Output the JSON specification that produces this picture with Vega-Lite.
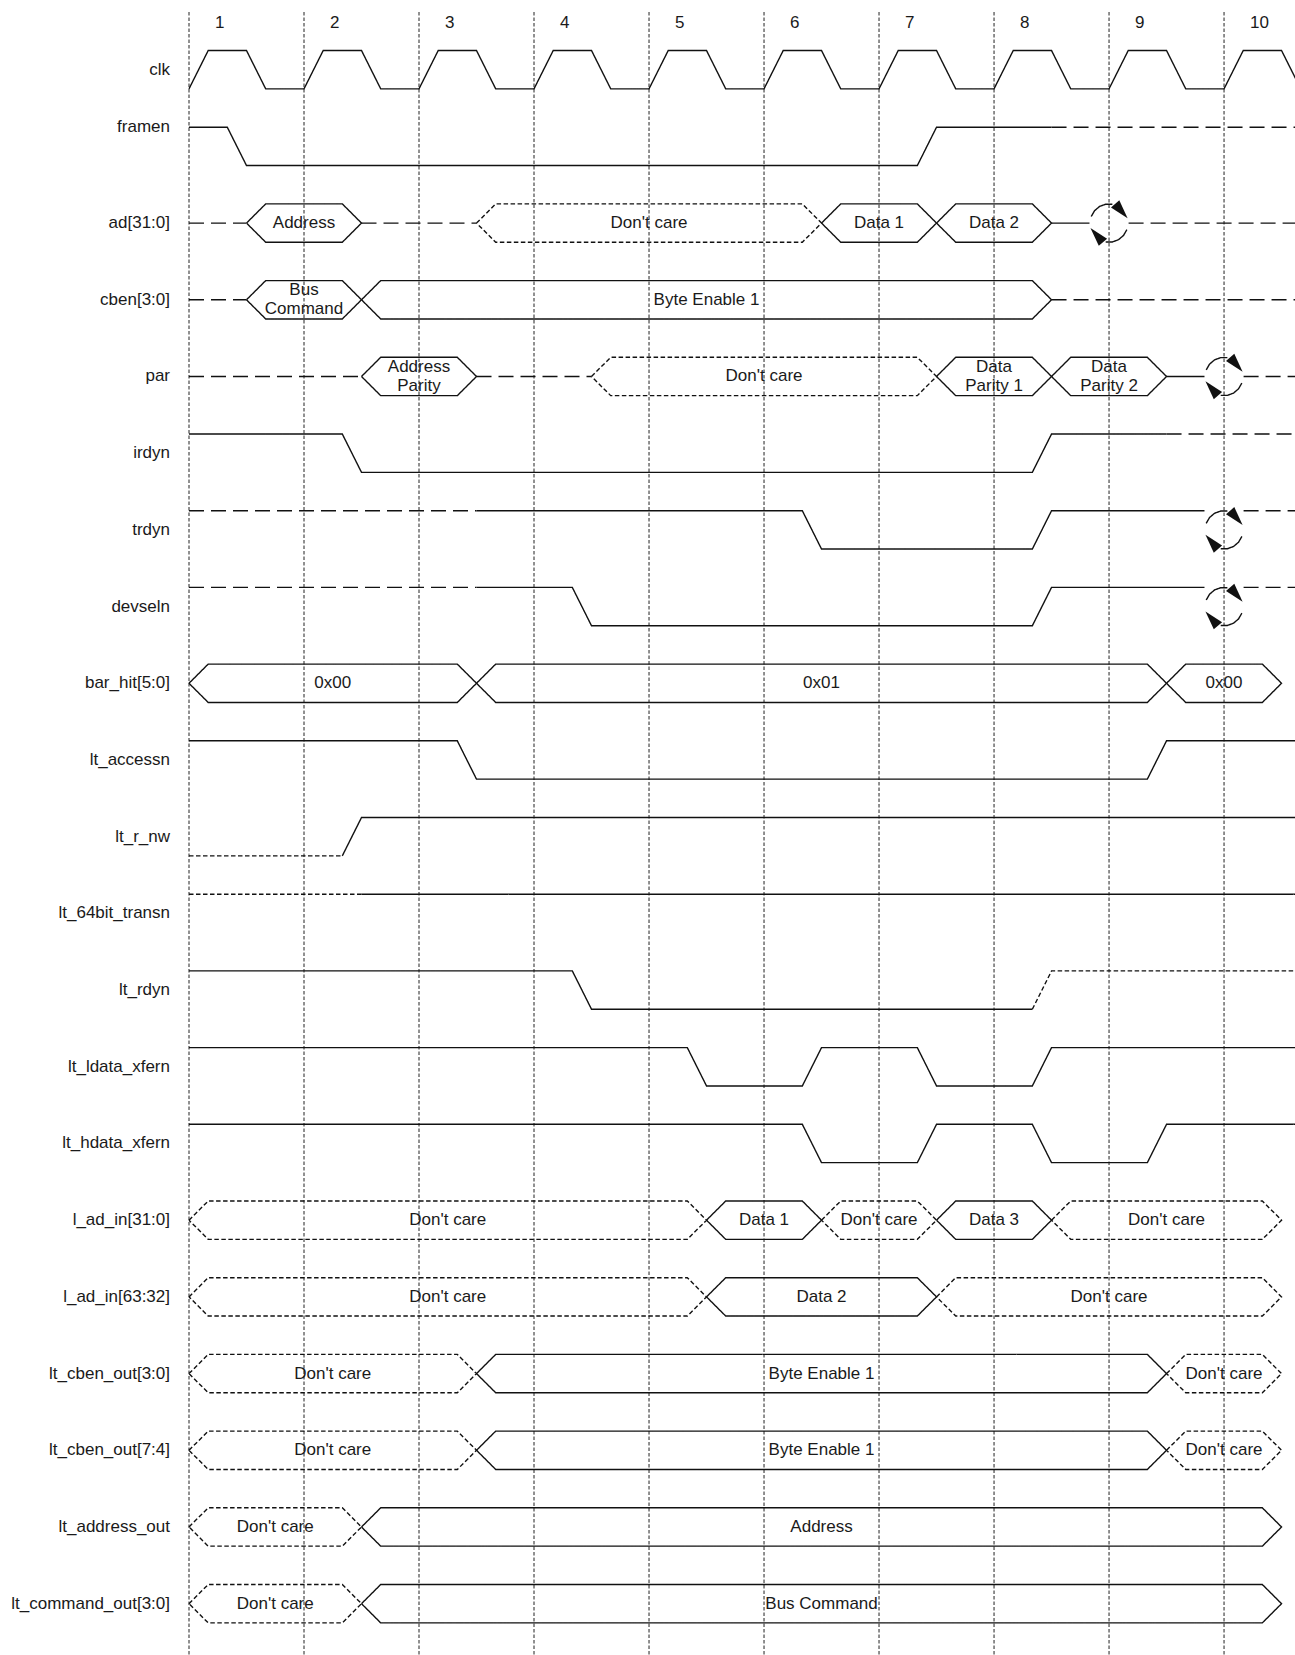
{
"$schema": "https://vega.github.io/schema/vega-lite/v6.json",
"width": 1106, "height": 1643,
"autosize": {"type": "none"},
"padding": {"left": 189, "top": 12, "right": 0, "bottom": 0},
"background": "white",
"config": {"view": {"stroke": null}},
"datasets": {
"num": [{"c":"1","t":0},{"c":"2","t":1},{"c":"3","t":2},{"c":"4","t":3},{"c":"5","t":4},{"c":"6","t":5},{"c":"7","t":6},{"c":"8","t":7},{"c":"9","t":8},{"c":"10","t":9}],
"nm": [{"name":"clk","ly":0},{"name":"framen","ly":0.75},{"name":"ad[31:0]","ly":2},{"name":"cben[3:0]","ly":3},{"name":"par","ly":4},{"name":"irdyn","ly":5},{"name":"trdyn","ly":6},{"name":"devseln","ly":7},{"name":"bar_hit[5:0]","ly":8},{"name":"lt_accessn","ly":9},{"name":"lt_r_nw","ly":10},{"name":"lt_64bit_transn","ly":11},{"name":"lt_rdyn","ly":12},{"name":"lt_ldata_xfern","ly":13},{"name":"lt_hdata_xfern","ly":14},{"name":"l_ad_in[31:0]","ly":15},{"name":"l_ad_in[63:32]","ly":16},{"name":"lt_cben_out[3:0]","ly":17},{"name":"lt_cben_out[7:4]","ly":18},{"name":"lt_address_out","ly":19},{"name":"lt_command_out[3:0]","ly":20}],
"lab": [
{"t":1,"y":2,"txt":"Address"},{"t":4,"y":2,"txt":"Don't care"},{"t":6,"y":2,"txt":"Data 1"},{"t":7,"y":2,"txt":"Data 2"},
{"t":4.5,"y":3,"txt":"Byte Enable 1"},
{"t":5,"y":4,"txt":"Don't care"},
{"t":1.25,"y":8,"txt":"0x00"},{"t":5.5,"y":8,"txt":"0x01"},{"t":9,"y":8,"txt":"0x00"},
{"t":2.25,"y":15,"txt":"Don't care"},{"t":5,"y":15,"txt":"Data 1"},{"t":6,"y":15,"txt":"Don't care"},{"t":7,"y":15,"txt":"Data 3"},{"t":8.5,"y":15,"txt":"Don't care"},
{"t":2.25,"y":16,"txt":"Don't care"},{"t":5.5,"y":16,"txt":"Data 2"},{"t":8,"y":16,"txt":"Don't care"},
{"t":1.25,"y":17,"txt":"Don't care"},{"t":5.5,"y":17,"txt":"Byte Enable 1"},{"t":9,"y":17,"txt":"Don't care"},
{"t":1.25,"y":18,"txt":"Don't care"},{"t":5.5,"y":18,"txt":"Byte Enable 1"},{"t":9,"y":18,"txt":"Don't care"},
{"t":0.75,"y":19,"txt":"Don't care"},{"t":5.5,"y":19,"txt":"Address"},
{"t":0.75,"y":20,"txt":"Don't care"},{"t":5.5,"y":20,"txt":"Bus Command"}
],
"lab2": [
{"t":1,"y":3,"txt":"Bus\nCommand"},
{"t":2,"y":4,"txt":"Address\nParity"},{"t":7,"y":4,"txt":"Data\nParity 1"},{"t":8,"y":4,"txt":"Data\nParity 2"}
],
"arr": [
{"t":8.089,"y":1.812,"ang":139},{"t":7.911,"y":2.188,"ang":319},
{"t":9.089,"y":3.812,"ang":139},{"t":8.911,"y":4.188,"ang":319},
{"t":9.089,"y":5.812,"ang":139},{"t":8.911,"y":6.188,"ang":319},
{"t":9.089,"y":6.812,"ang":139},{"t":8.911,"y":7.188,"ang":319}
],
"w": [
{"g":"clk","s":"solid","t":0,"y":0.25},
{"g":"clk","s":"solid","t":0.167,"y":-0.25},{"g":"clk","s":"solid","t":0.5,"y":-0.25},{"g":"clk","s":"solid","t":0.667,"y":0.25},{"g":"clk","s":"solid","t":1,"y":0.25},
{"g":"clk","s":"solid","t":1.167,"y":-0.25},{"g":"clk","s":"solid","t":1.5,"y":-0.25},{"g":"clk","s":"solid","t":1.667,"y":0.25},{"g":"clk","s":"solid","t":2,"y":0.25},
{"g":"clk","s":"solid","t":2.167,"y":-0.25},{"g":"clk","s":"solid","t":2.5,"y":-0.25},{"g":"clk","s":"solid","t":2.667,"y":0.25},{"g":"clk","s":"solid","t":3,"y":0.25},
{"g":"clk","s":"solid","t":3.167,"y":-0.25},{"g":"clk","s":"solid","t":3.5,"y":-0.25},{"g":"clk","s":"solid","t":3.667,"y":0.25},{"g":"clk","s":"solid","t":4,"y":0.25},
{"g":"clk","s":"solid","t":4.167,"y":-0.25},{"g":"clk","s":"solid","t":4.5,"y":-0.25},{"g":"clk","s":"solid","t":4.667,"y":0.25},{"g":"clk","s":"solid","t":5,"y":0.25},
{"g":"clk","s":"solid","t":5.167,"y":-0.25},{"g":"clk","s":"solid","t":5.5,"y":-0.25},{"g":"clk","s":"solid","t":5.667,"y":0.25},{"g":"clk","s":"solid","t":6,"y":0.25},
{"g":"clk","s":"solid","t":6.167,"y":-0.25},{"g":"clk","s":"solid","t":6.5,"y":-0.25},{"g":"clk","s":"solid","t":6.667,"y":0.25},{"g":"clk","s":"solid","t":7,"y":0.25},
{"g":"clk","s":"solid","t":7.167,"y":-0.25},{"g":"clk","s":"solid","t":7.5,"y":-0.25},{"g":"clk","s":"solid","t":7.667,"y":0.25},{"g":"clk","s":"solid","t":8,"y":0.25},
{"g":"clk","s":"solid","t":8.167,"y":-0.25},{"g":"clk","s":"solid","t":8.5,"y":-0.25},{"g":"clk","s":"solid","t":8.667,"y":0.25},{"g":"clk","s":"solid","t":9,"y":0.25},
{"g":"clk","s":"solid","t":9.167,"y":-0.25},{"g":"clk","s":"solid","t":9.5,"y":-0.25},{"g":"clk","s":"solid","t":9.667,"y":0.25},

{"g":"fr1","s":"solid","t":0,"y":0.75},{"g":"fr1","s":"solid","t":0.333,"y":0.75},{"g":"fr1","s":"solid","t":0.5,"y":1.25},{"g":"fr1","s":"solid","t":6.333,"y":1.25},{"g":"fr1","s":"solid","t":6.5,"y":0.75},{"g":"fr1","s":"solid","t":7.5,"y":0.75},
{"g":"fr2","s":"dash","t":7.5,"y":0.75},{"g":"fr2","s":"dash","t":9.7,"y":0.75},

{"g":"ad1","s":"dash","t":0,"y":2},{"g":"ad1","s":"dash","t":0.5,"y":2},
{"g":"adH1","s":"solid","t":0.5,"y":2},{"g":"adH1","s":"solid","t":0.667,"y":1.75},{"g":"adH1","s":"solid","t":1.333,"y":1.75},{"g":"adH1","s":"solid","t":1.5,"y":2},{"g":"adH1","s":"solid","t":1.333,"y":2.25},{"g":"adH1","s":"solid","t":0.667,"y":2.25},{"g":"adH1","s":"solid","t":0.5,"y":2},
{"g":"ad2","s":"dash","t":1.5,"y":2},{"g":"ad2","s":"dash","t":2.5,"y":2},
{"g":"adH2","s":"dot","t":2.5,"y":2},{"g":"adH2","s":"dot","t":2.667,"y":1.75},{"g":"adH2","s":"dot","t":5.333,"y":1.75},{"g":"adH2","s":"dot","t":5.5,"y":2},{"g":"adH2","s":"dot","t":5.333,"y":2.25},{"g":"adH2","s":"dot","t":2.667,"y":2.25},{"g":"adH2","s":"dot","t":2.5,"y":2},
{"g":"adH3","s":"solid","t":5.5,"y":2},{"g":"adH3","s":"solid","t":5.667,"y":1.75},{"g":"adH3","s":"solid","t":6.333,"y":1.75},{"g":"adH3","s":"solid","t":6.5,"y":2},{"g":"adH3","s":"solid","t":6.333,"y":2.25},{"g":"adH3","s":"solid","t":5.667,"y":2.25},{"g":"adH3","s":"solid","t":5.5,"y":2},
{"g":"adH4","s":"solid","t":6.5,"y":2},{"g":"adH4","s":"solid","t":6.667,"y":1.75},{"g":"adH4","s":"solid","t":7.333,"y":1.75},{"g":"adH4","s":"solid","t":7.5,"y":2},{"g":"adH4","s":"solid","t":7.333,"y":2.25},{"g":"adH4","s":"solid","t":6.667,"y":2.25},{"g":"adH4","s":"solid","t":6.5,"y":2},
{"g":"ad3","s":"solid","t":7.5,"y":2},{"g":"ad3","s":"solid","t":7.83,"y":2},
{"g":"adT","s":"solid","t":7.845,"y":1.9145},{"g":"adT","s":"solid","t":7.874,"y":1.839},{"g":"adT","s":"solid","t":7.9175,"y":1.7835},{"g":"adT","s":"solid","t":7.971,"y":1.754},{"g":"adT","s":"solid","t":8.029,"y":1.754},
{"g":"adB","s":"solid","t":8.155,"y":2.0855},{"g":"adB","s":"solid","t":8.126,"y":2.161},{"g":"adB","s":"solid","t":8.0825,"y":2.2165},{"g":"adB","s":"solid","t":8.029,"y":2.246},{"g":"adB","s":"solid","t":7.971,"y":2.246},
{"g":"ad4","s":"dash","t":8.17,"y":2},{"g":"ad4","s":"dash","t":9.7,"y":2},

{"g":"cb1","s":"dash","t":0,"y":3},{"g":"cb1","s":"dash","t":0.5,"y":3},
{"g":"cbH1","s":"solid","t":0.5,"y":3},{"g":"cbH1","s":"solid","t":0.667,"y":2.75},{"g":"cbH1","s":"solid","t":1.333,"y":2.75},{"g":"cbH1","s":"solid","t":1.5,"y":3},{"g":"cbH1","s":"solid","t":1.333,"y":3.25},{"g":"cbH1","s":"solid","t":0.667,"y":3.25},{"g":"cbH1","s":"solid","t":0.5,"y":3},
{"g":"cbH2","s":"solid","t":1.5,"y":3},{"g":"cbH2","s":"solid","t":1.667,"y":2.75},{"g":"cbH2","s":"solid","t":7.333,"y":2.75},{"g":"cbH2","s":"solid","t":7.5,"y":3},{"g":"cbH2","s":"solid","t":7.333,"y":3.25},{"g":"cbH2","s":"solid","t":1.667,"y":3.25},{"g":"cbH2","s":"solid","t":1.5,"y":3},
{"g":"cb2","s":"dash","t":7.5,"y":3},{"g":"cb2","s":"dash","t":9.7,"y":3},

{"g":"pa1","s":"dash","t":0,"y":4},{"g":"pa1","s":"dash","t":1.5,"y":4},
{"g":"paH1","s":"solid","t":1.5,"y":4},{"g":"paH1","s":"solid","t":1.667,"y":3.75},{"g":"paH1","s":"solid","t":2.333,"y":3.75},{"g":"paH1","s":"solid","t":2.5,"y":4},{"g":"paH1","s":"solid","t":2.333,"y":4.25},{"g":"paH1","s":"solid","t":1.667,"y":4.25},{"g":"paH1","s":"solid","t":1.5,"y":4},
{"g":"pa2","s":"dash","t":2.5,"y":4},{"g":"pa2","s":"dash","t":3.5,"y":4},
{"g":"paH2","s":"dot","t":3.5,"y":4},{"g":"paH2","s":"dot","t":3.667,"y":3.75},{"g":"paH2","s":"dot","t":6.333,"y":3.75},{"g":"paH2","s":"dot","t":6.5,"y":4},{"g":"paH2","s":"dot","t":6.333,"y":4.25},{"g":"paH2","s":"dot","t":3.667,"y":4.25},{"g":"paH2","s":"dot","t":3.5,"y":4},
{"g":"paH3","s":"solid","t":6.5,"y":4},{"g":"paH3","s":"solid","t":6.667,"y":3.75},{"g":"paH3","s":"solid","t":7.333,"y":3.75},{"g":"paH3","s":"solid","t":7.5,"y":4},{"g":"paH3","s":"solid","t":7.333,"y":4.25},{"g":"paH3","s":"solid","t":6.667,"y":4.25},{"g":"paH3","s":"solid","t":6.5,"y":4},
{"g":"paH4","s":"solid","t":7.5,"y":4},{"g":"paH4","s":"solid","t":7.667,"y":3.75},{"g":"paH4","s":"solid","t":8.333,"y":3.75},{"g":"paH4","s":"solid","t":8.5,"y":4},{"g":"paH4","s":"solid","t":8.333,"y":4.25},{"g":"paH4","s":"solid","t":7.667,"y":4.25},{"g":"paH4","s":"solid","t":7.5,"y":4},
{"g":"pa3","s":"solid","t":8.5,"y":4},{"g":"pa3","s":"solid","t":8.83,"y":4},
{"g":"paT","s":"solid","t":8.845,"y":3.9145},{"g":"paT","s":"solid","t":8.874,"y":3.839},{"g":"paT","s":"solid","t":8.9175,"y":3.7835},{"g":"paT","s":"solid","t":8.971,"y":3.754},{"g":"paT","s":"solid","t":9.029,"y":3.754},
{"g":"paB","s":"solid","t":9.155,"y":4.0855},{"g":"paB","s":"solid","t":9.126,"y":4.161},{"g":"paB","s":"solid","t":9.0825,"y":4.2165},{"g":"paB","s":"solid","t":9.029,"y":4.246},{"g":"paB","s":"solid","t":8.971,"y":4.246},
{"g":"pa4","s":"dash","t":9.17,"y":4},{"g":"pa4","s":"dash","t":9.7,"y":4},

{"g":"ir1","s":"solid","t":0,"y":4.75},{"g":"ir1","s":"solid","t":1.333,"y":4.75},{"g":"ir1","s":"solid","t":1.5,"y":5.25},{"g":"ir1","s":"solid","t":7.333,"y":5.25},{"g":"ir1","s":"solid","t":7.5,"y":4.75},{"g":"ir1","s":"solid","t":8.5,"y":4.75},
{"g":"ir2","s":"dash","t":8.5,"y":4.75},{"g":"ir2","s":"dash","t":9.7,"y":4.75},

{"g":"tr1","s":"dash","t":0,"y":5.75},{"g":"tr1","s":"dash","t":2.5,"y":5.75},
{"g":"tr2","s":"solid","t":2.5,"y":5.75},{"g":"tr2","s":"solid","t":5.333,"y":5.75},{"g":"tr2","s":"solid","t":5.5,"y":6.25},{"g":"tr2","s":"solid","t":7.333,"y":6.25},{"g":"tr2","s":"solid","t":7.5,"y":5.75},{"g":"tr2","s":"solid","t":8.83,"y":5.75},
{"g":"trT","s":"solid","t":8.845,"y":5.9145},{"g":"trT","s":"solid","t":8.874,"y":5.839},{"g":"trT","s":"solid","t":8.9175,"y":5.7835},{"g":"trT","s":"solid","t":8.971,"y":5.754},{"g":"trT","s":"solid","t":9.029,"y":5.754},
{"g":"trB","s":"solid","t":9.155,"y":6.0855},{"g":"trB","s":"solid","t":9.126,"y":6.161},{"g":"trB","s":"solid","t":9.0825,"y":6.2165},{"g":"trB","s":"solid","t":9.029,"y":6.246},{"g":"trB","s":"solid","t":8.971,"y":6.246},
{"g":"tr3","s":"dash","t":9.17,"y":5.75},{"g":"tr3","s":"dash","t":9.7,"y":5.75},

{"g":"dv1","s":"dash","t":0,"y":6.75},{"g":"dv1","s":"dash","t":2.5,"y":6.75},
{"g":"dv2","s":"solid","t":2.5,"y":6.75},{"g":"dv2","s":"solid","t":3.333,"y":6.75},{"g":"dv2","s":"solid","t":3.5,"y":7.25},{"g":"dv2","s":"solid","t":7.333,"y":7.25},{"g":"dv2","s":"solid","t":7.5,"y":6.75},{"g":"dv2","s":"solid","t":8.83,"y":6.75},
{"g":"dvT","s":"solid","t":8.845,"y":6.9145},{"g":"dvT","s":"solid","t":8.874,"y":6.839},{"g":"dvT","s":"solid","t":8.9175,"y":6.7835},{"g":"dvT","s":"solid","t":8.971,"y":6.754},{"g":"dvT","s":"solid","t":9.029,"y":6.754},
{"g":"dvB","s":"solid","t":9.155,"y":7.0855},{"g":"dvB","s":"solid","t":9.126,"y":7.161},{"g":"dvB","s":"solid","t":9.0825,"y":7.2165},{"g":"dvB","s":"solid","t":9.029,"y":7.246},{"g":"dvB","s":"solid","t":8.971,"y":7.246},
{"g":"dv3","s":"dash","t":9.17,"y":6.75},{"g":"dv3","s":"dash","t":9.7,"y":6.75},

{"g":"bhH1","s":"solid","t":0,"y":8},{"g":"bhH1","s":"solid","t":0.167,"y":7.75},{"g":"bhH1","s":"solid","t":2.333,"y":7.75},{"g":"bhH1","s":"solid","t":2.5,"y":8},{"g":"bhH1","s":"solid","t":2.333,"y":8.25},{"g":"bhH1","s":"solid","t":0.167,"y":8.25},{"g":"bhH1","s":"solid","t":0,"y":8},
{"g":"bhH2","s":"solid","t":2.5,"y":8},{"g":"bhH2","s":"solid","t":2.667,"y":7.75},{"g":"bhH2","s":"solid","t":8.333,"y":7.75},{"g":"bhH2","s":"solid","t":8.5,"y":8},{"g":"bhH2","s":"solid","t":8.333,"y":8.25},{"g":"bhH2","s":"solid","t":2.667,"y":8.25},{"g":"bhH2","s":"solid","t":2.5,"y":8},
{"g":"bhH3","s":"solid","t":8.5,"y":8},{"g":"bhH3","s":"solid","t":8.667,"y":7.75},{"g":"bhH3","s":"solid","t":9.333,"y":7.75},{"g":"bhH3","s":"solid","t":9.5,"y":8},{"g":"bhH3","s":"solid","t":9.333,"y":8.25},{"g":"bhH3","s":"solid","t":8.667,"y":8.25},{"g":"bhH3","s":"solid","t":8.5,"y":8},

{"g":"la","s":"solid","t":0,"y":8.75},{"g":"la","s":"solid","t":2.333,"y":8.75},{"g":"la","s":"solid","t":2.5,"y":9.25},{"g":"la","s":"solid","t":8.333,"y":9.25},{"g":"la","s":"solid","t":8.5,"y":8.75},{"g":"la","s":"solid","t":9.7,"y":8.75},

{"g":"rn1","s":"dot","t":0,"y":10.25},{"g":"rn1","s":"dot","t":1.333,"y":10.25},
{"g":"rn2","s":"solid","t":1.333,"y":10.25},{"g":"rn2","s":"solid","t":1.5,"y":9.75},{"g":"rn2","s":"solid","t":9.7,"y":9.75},

{"g":"b64a","s":"dot","t":0,"y":10.75},{"g":"b64a","s":"dot","t":1.5,"y":10.75},
{"g":"b64b","s":"solid","t":1.5,"y":10.75},{"g":"b64b","s":"solid","t":9.7,"y":10.75},

{"g":"rd1","s":"solid","t":0,"y":11.75},{"g":"rd1","s":"solid","t":3.333,"y":11.75},{"g":"rd1","s":"solid","t":3.5,"y":12.25},{"g":"rd1","s":"solid","t":7.333,"y":12.25},
{"g":"rd2","s":"dot","t":7.333,"y":12.25},{"g":"rd2","s":"dot","t":7.5,"y":11.75},{"g":"rd2","s":"dot","t":9.7,"y":11.75},

{"g":"ld","s":"solid","t":0,"y":12.75},{"g":"ld","s":"solid","t":4.333,"y":12.75},{"g":"ld","s":"solid","t":4.5,"y":13.25},{"g":"ld","s":"solid","t":5.333,"y":13.25},{"g":"ld","s":"solid","t":5.5,"y":12.75},{"g":"ld","s":"solid","t":6.333,"y":12.75},{"g":"ld","s":"solid","t":6.5,"y":13.25},{"g":"ld","s":"solid","t":7.333,"y":13.25},{"g":"ld","s":"solid","t":7.5,"y":12.75},{"g":"ld","s":"solid","t":9.7,"y":12.75},

{"g":"hd","s":"solid","t":0,"y":13.75},{"g":"hd","s":"solid","t":5.333,"y":13.75},{"g":"hd","s":"solid","t":5.5,"y":14.25},{"g":"hd","s":"solid","t":6.333,"y":14.25},{"g":"hd","s":"solid","t":6.5,"y":13.75},{"g":"hd","s":"solid","t":7.333,"y":13.75},{"g":"hd","s":"solid","t":7.5,"y":14.25},{"g":"hd","s":"solid","t":8.333,"y":14.25},{"g":"hd","s":"solid","t":8.5,"y":13.75},{"g":"hd","s":"solid","t":9.7,"y":13.75},

{"g":"a31H1","s":"dot","t":0,"y":15},{"g":"a31H1","s":"dot","t":0.167,"y":14.75},{"g":"a31H1","s":"dot","t":4.333,"y":14.75},{"g":"a31H1","s":"dot","t":4.5,"y":15},{"g":"a31H1","s":"dot","t":4.333,"y":15.25},{"g":"a31H1","s":"dot","t":0.167,"y":15.25},{"g":"a31H1","s":"dot","t":0,"y":15},
{"g":"a31H2","s":"solid","t":4.5,"y":15},{"g":"a31H2","s":"solid","t":4.667,"y":14.75},{"g":"a31H2","s":"solid","t":5.333,"y":14.75},{"g":"a31H2","s":"solid","t":5.5,"y":15},{"g":"a31H2","s":"solid","t":5.333,"y":15.25},{"g":"a31H2","s":"solid","t":4.667,"y":15.25},{"g":"a31H2","s":"solid","t":4.5,"y":15},
{"g":"a31H3","s":"dot","t":5.5,"y":15},{"g":"a31H3","s":"dot","t":5.667,"y":14.75},{"g":"a31H3","s":"dot","t":6.333,"y":14.75},{"g":"a31H3","s":"dot","t":6.5,"y":15},{"g":"a31H3","s":"dot","t":6.333,"y":15.25},{"g":"a31H3","s":"dot","t":5.667,"y":15.25},{"g":"a31H3","s":"dot","t":5.5,"y":15},
{"g":"a31H4","s":"solid","t":6.5,"y":15},{"g":"a31H4","s":"solid","t":6.667,"y":14.75},{"g":"a31H4","s":"solid","t":7.333,"y":14.75},{"g":"a31H4","s":"solid","t":7.5,"y":15},{"g":"a31H4","s":"solid","t":7.333,"y":15.25},{"g":"a31H4","s":"solid","t":6.667,"y":15.25},{"g":"a31H4","s":"solid","t":6.5,"y":15},
{"g":"a31H5","s":"dot","t":7.5,"y":15},{"g":"a31H5","s":"dot","t":7.667,"y":14.75},{"g":"a31H5","s":"dot","t":9.333,"y":14.75},{"g":"a31H5","s":"dot","t":9.5,"y":15},{"g":"a31H5","s":"dot","t":9.333,"y":15.25},{"g":"a31H5","s":"dot","t":7.667,"y":15.25},{"g":"a31H5","s":"dot","t":7.5,"y":15},

{"g":"a63H1","s":"dot","t":0,"y":16},{"g":"a63H1","s":"dot","t":0.167,"y":15.75},{"g":"a63H1","s":"dot","t":4.333,"y":15.75},{"g":"a63H1","s":"dot","t":4.5,"y":16},{"g":"a63H1","s":"dot","t":4.333,"y":16.25},{"g":"a63H1","s":"dot","t":0.167,"y":16.25},{"g":"a63H1","s":"dot","t":0,"y":16},
{"g":"a63H2","s":"solid","t":4.5,"y":16},{"g":"a63H2","s":"solid","t":4.667,"y":15.75},{"g":"a63H2","s":"solid","t":6.333,"y":15.75},{"g":"a63H2","s":"solid","t":6.5,"y":16},{"g":"a63H2","s":"solid","t":6.333,"y":16.25},{"g":"a63H2","s":"solid","t":4.667,"y":16.25},{"g":"a63H2","s":"solid","t":4.5,"y":16},
{"g":"a63H3","s":"dot","t":6.5,"y":16},{"g":"a63H3","s":"dot","t":6.667,"y":15.75},{"g":"a63H3","s":"dot","t":9.333,"y":15.75},{"g":"a63H3","s":"dot","t":9.5,"y":16},{"g":"a63H3","s":"dot","t":9.333,"y":16.25},{"g":"a63H3","s":"dot","t":6.667,"y":16.25},{"g":"a63H3","s":"dot","t":6.5,"y":16},

{"g":"c3H1","s":"dot","t":0,"y":17},{"g":"c3H1","s":"dot","t":0.167,"y":16.75},{"g":"c3H1","s":"dot","t":2.333,"y":16.75},{"g":"c3H1","s":"dot","t":2.5,"y":17},{"g":"c3H1","s":"dot","t":2.333,"y":17.25},{"g":"c3H1","s":"dot","t":0.167,"y":17.25},{"g":"c3H1","s":"dot","t":0,"y":17},
{"g":"c3H2","s":"solid","t":2.5,"y":17},{"g":"c3H2","s":"solid","t":2.667,"y":16.75},{"g":"c3H2","s":"solid","t":8.333,"y":16.75},{"g":"c3H2","s":"solid","t":8.5,"y":17},{"g":"c3H2","s":"solid","t":8.333,"y":17.25},{"g":"c3H2","s":"solid","t":2.667,"y":17.25},{"g":"c3H2","s":"solid","t":2.5,"y":17},
{"g":"c3H3","s":"dot","t":8.5,"y":17},{"g":"c3H3","s":"dot","t":8.667,"y":16.75},{"g":"c3H3","s":"dot","t":9.333,"y":16.75},{"g":"c3H3","s":"dot","t":9.5,"y":17},{"g":"c3H3","s":"dot","t":9.333,"y":17.25},{"g":"c3H3","s":"dot","t":8.667,"y":17.25},{"g":"c3H3","s":"dot","t":8.5,"y":17},

{"g":"c7H1","s":"dot","t":0,"y":18},{"g":"c7H1","s":"dot","t":0.167,"y":17.75},{"g":"c7H1","s":"dot","t":2.333,"y":17.75},{"g":"c7H1","s":"dot","t":2.5,"y":18},{"g":"c7H1","s":"dot","t":2.333,"y":18.25},{"g":"c7H1","s":"dot","t":0.167,"y":18.25},{"g":"c7H1","s":"dot","t":0,"y":18},
{"g":"c7H2","s":"solid","t":2.5,"y":18},{"g":"c7H2","s":"solid","t":2.667,"y":17.75},{"g":"c7H2","s":"solid","t":8.333,"y":17.75},{"g":"c7H2","s":"solid","t":8.5,"y":18},{"g":"c7H2","s":"solid","t":8.333,"y":18.25},{"g":"c7H2","s":"solid","t":2.667,"y":18.25},{"g":"c7H2","s":"solid","t":2.5,"y":18},
{"g":"c7H3","s":"dot","t":8.5,"y":18},{"g":"c7H3","s":"dot","t":8.667,"y":17.75},{"g":"c7H3","s":"dot","t":9.333,"y":17.75},{"g":"c7H3","s":"dot","t":9.5,"y":18},{"g":"c7H3","s":"dot","t":9.333,"y":18.25},{"g":"c7H3","s":"dot","t":8.667,"y":18.25},{"g":"c7H3","s":"dot","t":8.5,"y":18},

{"g":"aoH1","s":"dot","t":0,"y":19},{"g":"aoH1","s":"dot","t":0.167,"y":18.75},{"g":"aoH1","s":"dot","t":1.333,"y":18.75},{"g":"aoH1","s":"dot","t":1.5,"y":19},{"g":"aoH1","s":"dot","t":1.333,"y":19.25},{"g":"aoH1","s":"dot","t":0.167,"y":19.25},{"g":"aoH1","s":"dot","t":0,"y":19},
{"g":"aoH2","s":"solid","t":1.5,"y":19},{"g":"aoH2","s":"solid","t":1.667,"y":18.75},{"g":"aoH2","s":"solid","t":9.333,"y":18.75},{"g":"aoH2","s":"solid","t":9.5,"y":19},{"g":"aoH2","s":"solid","t":9.333,"y":19.25},{"g":"aoH2","s":"solid","t":1.667,"y":19.25},{"g":"aoH2","s":"solid","t":1.5,"y":19},

{"g":"cmH1","s":"dot","t":0,"y":20},{"g":"cmH1","s":"dot","t":0.167,"y":19.75},{"g":"cmH1","s":"dot","t":1.333,"y":19.75},{"g":"cmH1","s":"dot","t":1.5,"y":20},{"g":"cmH1","s":"dot","t":1.333,"y":20.25},{"g":"cmH1","s":"dot","t":0.167,"y":20.25},{"g":"cmH1","s":"dot","t":0,"y":20},
{"g":"cmH2","s":"solid","t":1.5,"y":20},{"g":"cmH2","s":"solid","t":1.667,"y":19.75},{"g":"cmH2","s":"solid","t":9.333,"y":19.75},{"g":"cmH2","s":"solid","t":9.5,"y":20},{"g":"cmH2","s":"solid","t":9.333,"y":20.25},{"g":"cmH2","s":"solid","t":1.667,"y":20.25},{"g":"cmH2","s":"solid","t":1.5,"y":20}
]
},
"layer": [
{"data": {"name": "num"},
 "mark": {"type": "rule", "strokeDash": [3.5, 2], "strokeWidth": 1, "color": "#222222"},
 "encoding": {"x": {"field": "t", "type": "quantitative", "scale": {"domain": [0, 9.617], "nice": false, "zero": false}, "axis": null}}},
{"data": {"name": "w"},
 "mark": {"type": "line", "strokeWidth": 1.4, "color": "#111111", "clip": false},
 "encoding": {
  "x": {"field": "t", "type": "quantitative", "scale": {"domain": [0, 9.617], "nice": false, "zero": false}, "axis": null},
  "y": {"field": "y", "type": "quantitative", "scale": {"domain": [-0.752, 20.669], "reverse": true, "nice": false, "zero": false}, "axis": null},
  "detail": {"field": "g", "type": "nominal"},
  "order": {"value": null},
  "strokeDash": {"field": "s", "type": "nominal", "scale": {"domain": ["solid", "dash", "dot"], "range": [[1, 0], [15, 7], [4.5, 2.5]]}, "legend": null}
 }},
{"data": {"name": "arr"},
 "mark": {"type": "point", "shape": "M 0 -1.27 L 0.55 0.63 L -0.55 0.63 Z", "filled": true, "size": 400, "color": "#111111", "opacity": 1, "strokeWidth": 0},
 "encoding": {
  "x": {"field": "t", "type": "quantitative", "scale": {"domain": [0, 9.617], "nice": false, "zero": false}, "axis": null},
  "y": {"field": "y", "type": "quantitative", "scale": {"domain": [-0.752, 20.669], "reverse": true, "nice": false, "zero": false}, "axis": null},
  "angle": {"field": "ang", "type": "quantitative", "scale": null}
 }},
{"data": {"name": "lab"},
 "mark": {"type": "text", "font": "Liberation Sans", "fontSize": 17, "color": "#1a1a1a", "align": "center", "baseline": "middle"},
 "encoding": {
  "x": {"field": "t", "type": "quantitative", "scale": {"domain": [0, 9.617], "nice": false, "zero": false}, "axis": null},
  "y": {"field": "y", "type": "quantitative", "scale": {"domain": [-0.752, 20.669], "reverse": true, "nice": false, "zero": false}, "axis": null},
  "text": {"field": "txt", "type": "nominal"}
 }},
{"data": {"name": "lab2"},
 "mark": {"type": "text", "font": "Liberation Sans", "fontSize": 17, "color": "#1a1a1a", "align": "center", "baseline": "middle", "lineBreak": "\n", "lineHeight": 19, "dy": -9.5},
 "encoding": {
  "x": {"field": "t", "type": "quantitative", "scale": {"domain": [0, 9.617], "nice": false, "zero": false}, "axis": null},
  "y": {"field": "y", "type": "quantitative", "scale": {"domain": [-0.752, 20.669], "reverse": true, "nice": false, "zero": false}, "axis": null},
  "text": {"field": "txt", "type": "nominal"}
 }},
{"data": {"name": "nm"},
 "mark": {"type": "text", "font": "Liberation Sans", "fontSize": 17, "color": "#1a1a1a", "align": "right", "baseline": "middle", "dx": -19},
 "encoding": {
  "x": {"datum": 0, "type": "quantitative", "scale": {"domain": [0, 9.617], "nice": false, "zero": false}, "axis": null},
  "y": {"field": "ly", "type": "quantitative", "scale": {"domain": [-0.752, 20.669], "reverse": true, "nice": false, "zero": false}, "axis": null},
  "text": {"field": "name", "type": "nominal"}
 }},
{"data": {"name": "num"},
 "mark": {"type": "text", "font": "Liberation Sans", "fontSize": 17, "color": "#1a1a1a", "align": "left", "baseline": "middle", "dx": 26},
 "encoding": {
  "x": {"field": "t", "type": "quantitative", "scale": {"domain": [0, 9.617], "nice": false, "zero": false}, "axis": null},
  "y": {"datum": -0.61, "type": "quantitative", "scale": {"domain": [-0.752, 20.669], "reverse": true, "nice": false, "zero": false}, "axis": null},
  "text": {"field": "c", "type": "nominal"}
 }}
]
}
